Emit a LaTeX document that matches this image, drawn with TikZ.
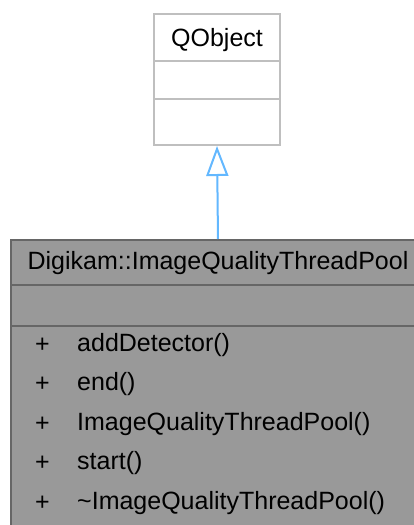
\documentclass[tikz,border=0pt]{standalone}
\usepackage{fontspec}
\setmainfont{Liberation Sans}
\usetikzlibrary{arrows.meta, positioning}

\definecolor{qobjline}{HTML}{BFBFBF}
\definecolor{poolfill}{HTML}{999999}
\definecolor{poolline}{HTML}{666666}
\definecolor{inheritblue}{HTML}{63B8FF}

\begin{document}
\begin{tikzpicture}[
      x=1pt, y=-1pt,
      font=\fontsize{25}{30}\selectfont,
      classbox/.style={draw, line width=2pt, anchor=north west, inner sep=0pt},
      divider/.style={line width=2pt},
      member/.style={anchor=west, inner sep=0pt},
      inherit/.style={-{Triangle[open, fill=white, length=30pt, width=22pt]}, line width=2pt, inheritblue}
    ]
    \clip (0,0) rectangle (414,525);
    \fill[white] (0,0) rectangle (414,525);
    % base class
    \node[classbox, draw=qobjline, fill=white, minimum width=126pt, minimum height=131pt] (qobject) at (153,13) {};
    \node (qname) at (qobject.north |- 0,40) {QObject};
    \draw[divider, qobjline] (qobject.west |- 0,61) -- (qobject.east |- 0,61);
    \draw[divider, qobjline] (qobject.west |- 0,99) -- (qobject.east |- 0,99);
    % derived class
    \node[classbox, draw=poolline, fill=poolfill, minimum width=414pt, minimum height=300pt] (pool) at (10,239) {};
    \node (poolname) at (pool.north |- 0,263) {Digikam::ImageQualityThreadPool};
    \draw[divider, poolline] (pool.west |- 0,285) -- (pool.east |- 0,285);
    \draw[divider, poolline] (pool.west |- 0,326) -- (pool.east |- 0,326);
    \foreach \name [count=\i] in {addDetector(), end(), ImageQualityThreadPool(), start(), \textasciitilde ImageQualityThreadPool()} {
      \node[member] (plus\i) at (35,{345+39.5*(\i-1)}) {+};
      \node[member] (member\i) at (77,{345+39.5*(\i-1)}) {\name};
    }
    \draw[inherit] (pool.north) -- (qobject.south);
  \end{tikzpicture}
\end{document}
